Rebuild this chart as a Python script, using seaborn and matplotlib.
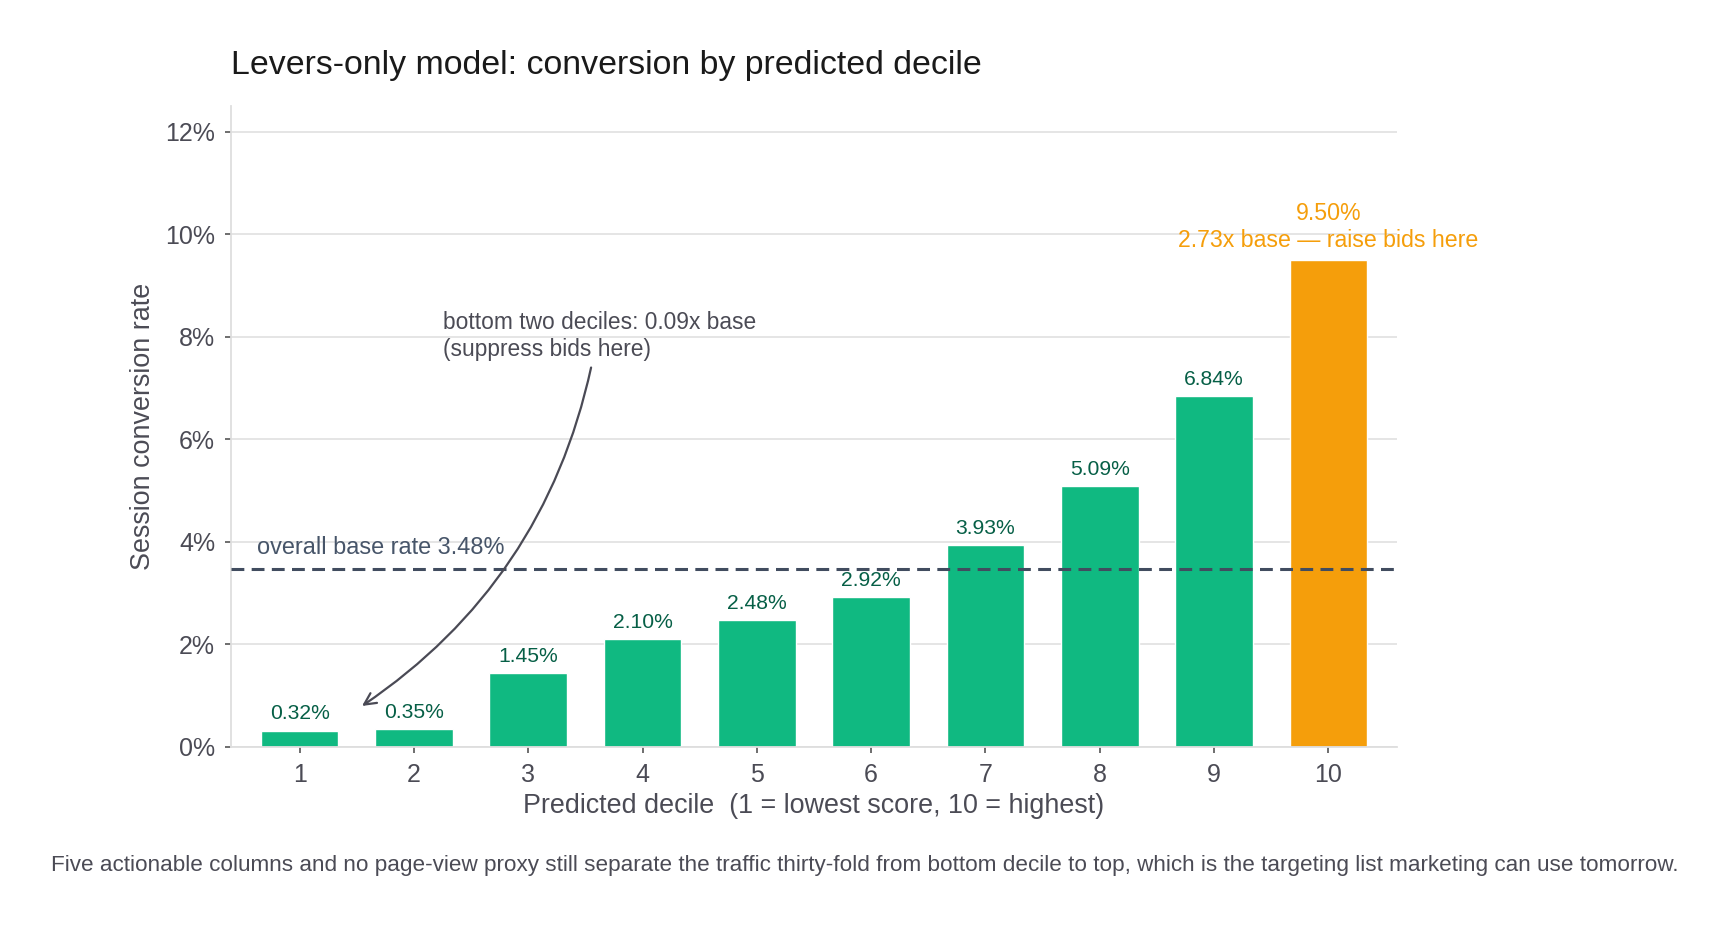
import matplotlib
matplotlib.use("Agg")
import matplotlib.pyplot as plt
import matplotlib.transforms as mtransforms
import seaborn as sns
import pandas as pd

# ---- data ----
deciles = ["1", "2", "3", "4", "5", "6", "7", "8", "9", "10"]
conversion_pct = [0.32, 0.35, 1.45, 2.10, 2.48, 2.92, 3.93, 5.09, 6.84, 9.50]
base_rate_pct = 3.48
top_lift = 2.73
bottom_lift = 0.09
y_ticks = [0, 2, 4, 6, 8, 10, 12]

GREEN = "#10b981"
ORANGE = "#f59e0b"
LABEL_GREEN = "#065f46"
SLATE = "#475569"
DASH = "#414c5f"
GRAY_TXT = "#4b4b55"

sns.set_theme(style="white")
plt.rcParams["font.family"] = ["Liberation Sans", "DejaVu Sans"]

df = pd.DataFrame({"decile": deciles, "rate": conversion_pct})
palette = {d: (ORANGE if d == deciles[-1] else GREEN) for d in deciles}

fig = plt.figure(figsize=(17.3, 9.26), dpi=100)
ax = fig.add_axes([231 / 1730, 1 - 747 / 926, (1397 - 231) / 1730, (747 - 106) / 926])

sns.barplot(data=df, x="decile", y="rate", hue="decile", palette=palette,
            order=deciles, hue_order=deciles, width=0.68, legend=False,
            saturation=1, ax=ax, zorder=2)

ax.set_xlim(-0.6, len(deciles) - 0.4)
ax.set_ylim(0, 12.5)
ax.set_yticks(y_ticks)
ax.set_yticklabels([f"{t}%" for t in y_ticks])

ax.grid(axis="y", color="#e3e3e3", linewidth=1.3, zorder=0)
ax.set_axisbelow(True)
for s in ["top", "right"]:
    ax.spines[s].set_visible(False)
for s in ["left", "bottom"]:
    ax.spines[s].set_color("#dedede")
    ax.spines[s].set_linewidth(1.3)

ax.tick_params(axis="both", which="major", length=4.5, width=1.2, color="#555555",
               labelsize=18, labelcolor="#4b4b55", pad=7, bottom=True, left=True)

ax.set_xlabel("Predicted decile  (1 = lowest score, 10 = highest)", fontsize=19.4,
              color="#4b4b55", labelpad=4.5)
ax.set_ylabel("Session conversion rate", fontsize=19.4, color="#4b4b55", labelpad=6.5)

# base rate line
ax.axhline(base_rate_pct, color=DASH, linewidth=2.2, dashes=(4.2, 2.4), zorder=4)
blend = mtransforms.blended_transform_factory(ax.transAxes, ax.transData)
ax.annotate(f"overall base rate {base_rate_pct:.2f}%", xy=(0.022, base_rate_pct),
            xycoords=blend, xytext=(0, 10.5), textcoords="offset points",
            ha="left", va="baseline", fontsize=16.9, color=SLATE, zorder=5)

# bar labels
for i, (d, v) in enumerate(zip(deciles, conversion_pct)):
    if i == len(deciles) - 1:
        ax.annotate(f"{v:.2f}%\n{top_lift:.2f}x base \u2014 raise bids here",
                    xy=(i, v), xytext=(0, 9.5), textcoords="offset points",
                    ha="center", va="baseline", fontsize=16.7, color=ORANGE,
                    linespacing=1.22, zorder=5)
    else:
        ax.annotate(f"{v:.2f}%", xy=(i, v), xytext=(0, 8), textcoords="offset points",
                    ha="center", va="baseline", fontsize=15.2, color=LABEL_GREEN, zorder=5)

# bottom deciles annotation (baseline of the last line)
ax.text(1.255, 7.63, f"bottom two deciles: {bottom_lift:.2f}x base\n(suppress bids here)",
        ha="left", va="baseline", fontsize=16.4, color=GRAY_TXT, linespacing=1.22, zorder=5)
ax.annotate("", xy=(0.546, 0.80), xytext=(2.55, 7.40),
            arrowprops=dict(arrowstyle="->,head_length=0.7,head_width=0.35",
                            color="#4a4a55", lw=1.6,
                            connectionstyle="arc3,rad=-0.2",
                            shrinkA=0, shrinkB=0),
            zorder=6)

# title and caption
fig.text(231 / 1730, 1 - 74 / 926, "Levers-only model: conversion by predicted decile",
         ha="left", va="baseline", fontsize=24.4, color="#1a1a1a")
fig.text(0.5, 1 - 871 / 926,
         "Five actionable columns and no page-view proxy still separate the traffic thirty-fold "
         "from bottom decile to top, which is the targeting list marketing can use tomorrow.",
         ha="center", va="baseline", fontsize=16.2, color="#4b4b55")

fig.savefig("out.png", dpi=100)
